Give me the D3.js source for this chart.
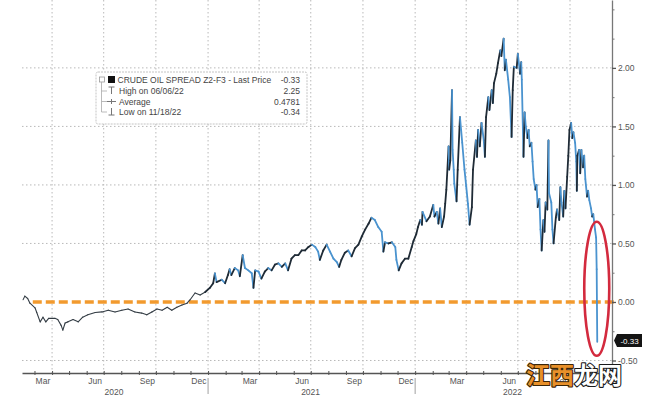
<!DOCTYPE html>
<html><head><meta charset="utf-8">
<script src="https://cdn.jsdelivr.net/npm/d3@7"></script>
<style>body{margin:0;background:#fff}svg{display:block}</style>
</head><body>
<svg id="c" width="660" height="400"></svg>
<script>
// ---------- data ----------
const dates2020 = ["2020-02-10","2020-02-13","2020-02-18","2020-02-22","2020-03-02","2020-03-05","2020-03-11","2020-03-16","2020-03-21","2020-03-26","2020-04-06","2020-04-11","2020-04-17","2020-04-20","2020-04-24","2020-04-29","2020-05-08","2020-05-17","2020-05-25","2020-06-03","2020-06-16","2020-06-28","2020-07-09","2020-07-21","2020-08-02","2020-08-13","2020-08-25","2020-09-06","2020-09-15","2020-09-24","2020-10-03","2020-10-12","2020-10-21","2020-10-29","2020-11-07","2020-11-16","2020-11-25","2020-11-30","2020-12-09","2020-12-18","2020-12-27"];
const values2020 = [0.02,0.05,0.03,-0.01,-0.05,-0.09,-0.17,-0.13,-0.17,-0.14,-0.14,-0.15,-0.20,-0.24,-0.18,-0.17,-0.15,-0.17,-0.13,-0.11,-0.09,-0.085,-0.07,-0.085,-0.07,-0.06,-0.085,-0.095,-0.11,-0.085,-0.06,-0.07,-0.045,-0.07,-0.045,-0.026,-0.01,0.017,0.077,0.06,0.085];
const dates2021 = ["2021-01-04","2021-01-10","2021-01-13","2021-01-16","2021-01-25","2021-01-31","2021-02-05","2021-02-08","2021-02-11","2021-02-17","2021-02-23","2021-02-26","2021-03-03","2021-03-07","2021-03-13","2021-03-19","2021-03-22","2021-03-25","2021-03-31","2021-04-05","2021-04-11","2021-04-17","2021-04-23","2021-04-29","2021-05-05","2021-05-11","2021-05-17","2021-05-22","2021-05-28","2021-06-03","2021-06-09","2021-06-15","2021-06-21","2021-06-27","2021-07-03","2021-07-09","2021-07-14","2021-07-17","2021-07-23","2021-07-29","2021-08-04","2021-08-10","2021-08-16","2021-08-20","2021-08-24","2021-08-30","2021-09-05","2021-09-11","2021-09-17","2021-09-23","2021-09-29","2021-10-05","2021-10-11","2021-10-16","2021-10-22","2021-10-28","2021-11-03","2021-11-06","2021-11-09","2021-11-15","2021-11-21","2021-11-27","2021-11-29","2021-12-03","2021-12-08","2021-12-14","2021-12-20","2021-12-26","2021-12-29"];
const values2021 = [0.12,0.16,0.245,0.17,0.19,0.16,0.23,0.28,0.23,0.29,0.27,0.22,0.40,0.29,0.27,0.245,0.12,0.27,0.26,0.20,0.26,0.29,0.27,0.32,0.33,0.30,0.33,0.27,0.37,0.40,0.40,0.44,0.44,0.47,0.49,0.47,0.43,0.36,0.44,0.49,0.43,0.37,0.34,0.30,0.36,0.42,0.44,0.39,0.46,0.49,0.56,0.62,0.67,0.72,0.70,0.64,0.60,0.43,0.51,0.50,0.51,0.47,0.36,0.27,0.33,0.37,0.37,0.47,0.52];
const dates2022 = ["2022-01-03","2022-01-06","2022-01-10","2022-01-13","2022-01-14","2022-01-21","2022-01-27","2022-02-02","2022-02-04","2022-02-08","2022-02-11","2022-02-14","2022-02-17","2022-02-21","2022-02-23","2022-02-25","2022-03-01","2022-03-02","2022-03-04","2022-03-07","2022-03-08","2022-03-10","2022-03-11","2022-03-15","2022-03-17","2022-03-21","2022-03-23","2022-03-25","2022-03-29","2022-04-01","2022-04-04","2022-04-07","2022-04-11","2022-04-13","2022-04-18","2022-04-20","2022-04-22","2022-04-25","2022-04-28","2022-05-02","2022-05-04","2022-05-06","2022-05-10","2022-05-12","2022-05-16","2022-05-18","2022-05-20","2022-05-24","2022-05-27","2022-05-31","2022-06-02","2022-06-06","2022-06-08","2022-06-10","2022-06-14","2022-06-17","2022-06-20","2022-06-22","2022-06-24","2022-06-29","2022-07-01","2022-07-05","2022-07-07","2022-07-08","2022-07-11","2022-07-13","2022-07-15","2022-07-18","2022-07-20","2022-07-22","2022-07-25","2022-07-27","2022-07-29","2022-08-01","2022-08-03","2022-08-05","2022-08-08","2022-08-10","2022-08-12","2022-08-15","2022-08-17","2022-08-19","2022-08-22","2022-08-24","2022-08-25","2022-08-29","2022-08-31","2022-09-02","2022-09-06","2022-09-08","2022-09-12","2022-09-14","2022-09-16","2022-09-19","2022-09-21","2022-09-23","2022-09-26","2022-09-28","2022-09-30","2022-10-03","2022-10-05","2022-10-07","2022-10-10","2022-10-12","2022-10-13","2022-10-14","2022-10-17","2022-10-19","2022-10-21","2022-10-24","2022-10-26","2022-10-28","2022-10-31","2022-11-02","2022-11-04","2022-11-07","2022-11-09","2022-11-11","2022-11-14","2022-11-16","2022-11-17","2022-11-18"];
const values2022 = [0.58,0.64,0.70,0.66,0.77,0.69,0.73,0.83,0.73,0.77,0.67,0.80,0.64,0.73,0.84,0.96,1.33,1.13,1.21,1.81,1.30,1.13,1.01,0.86,1.13,1.58,1.47,1.36,1.13,0.99,0.84,0.66,0.81,1.13,1.38,1.24,1.47,1.33,1.53,1.38,1.24,1.58,1.75,1.64,1.81,1.70,1.87,1.95,2.04,2.15,2.10,2.25,1.98,2.07,1.90,1.75,1.41,1.81,2.01,2.00,2.12,1.95,2.05,1.90,1.24,1.62,1.50,1.40,1.47,1.33,1.36,1.20,1.05,0.96,1.00,0.81,0.88,0.62,0.44,0.70,0.60,0.85,0.79,1.38,0.93,0.85,0.62,0.50,0.72,0.79,0.70,0.98,0.85,0.73,0.95,0.80,1.07,1.25,1.47,1.53,1.40,1.45,1.36,1.20,0.95,1.25,1.30,1.10,1.30,1.15,1.25,1.05,0.90,0.95,0.87,0.80,0.73,0.75,0.62,0.55,0.28,-0.34];

const yTicks = [-0.5, 0, 0.5, 1, 1.5, 2];
const yMinorTicks = [-0.25, 0.25, 0.75, 1.25, 1.75, 2.25, 2.5];
const monthLabelDates = ["2020-03-15","2020-06-15","2020-09-15","2020-12-15","2021-03-15","2021-06-15","2021-09-15","2021-12-15","2022-03-15","2022-06-15","2022-09-15"];
const yearLabels = ["2020","2021","2022"];
const legendLabels = ["CRUDE OIL SPREAD Z2-F3 - Last Price","High on 06/06/22","Average","Low on 11/18/22"];
const legendValues = ["-0.33","2.25","0.4781","-0.34"];
const lastPrice = -0.33;
const lowDate = "2022-11-18";
const domainStart = "2020-02-08", domainEnd = "2022-12-14";
const zeroLineStart = "2020-02-27";

// ---------- setup ----------
const parse = d3.timeParse("%Y-%m-%d");
const svg = d3.select("#c");
const x = d3.scaleTime().domain([parse(domainStart), parse(domainEnd)]).range([22, 612]);
const y = d3.scaleLinear().domain([-0.6, 2.58]).range([372.2, 0]);
const data = [];
[[dates2020, values2020],[dates2021, values2021],[dates2022, values2022]].forEach(([ds, vs]) => {
  const n = Math.min(ds.length, vs.length);
  for (let i = 0; i < n; i++) data.push({date: parse(ds[i]), v: vs[i]});
});
const font = "'Liberation Sans', Arial, sans-serif";
const x0 = x.range()[0], x1 = x.range()[1];
const axisY = 373;

// gridlines
const gridDates = d3.timeMonth.every(3).range(parse("2020-03-01"), parse(domainEnd)).filter(d => d > x.domain()[0]);
svg.append("g").selectAll("line").data(gridDates).join("line")
  .attr("x1", d => x(d)).attr("x2", d => x(d)).attr("y1", 0).attr("y2", axisY)
  .attr("stroke", "#b9b9b9").attr("stroke-width", 1).attr("stroke-dasharray", "1.5,2.5");
svg.append("g").selectAll("line").data(yTicks.filter(d => d !== 0)).join("line")
  .attr("x1", x0).attr("x2", x1).attr("y1", d => y(d)).attr("y2", d => y(d))
  .attr("stroke", "#b9b9b9").attr("stroke-width", 1).attr("stroke-dasharray", "1.5,2.5");

// zero line
svg.append("line").attr("x1", x(parse(zeroLineStart))).attr("x2", x1 + 2)
  .attr("y1", y(0)).attr("y2", y(0))
  .attr("stroke", "#f29a2e").attr("stroke-width", 3.4).attr("stroke-dasharray", "9,4");

// series segments (blue when falling, dark when rising)
const seg = svg.append("g").attr("stroke-linecap", "round");
for (let i = 1; i < data.length; i++) {
  const a = data[i-1], b = data[i];
  const early = b.date.getFullYear() === 2020;
  seg.append("line")
    .attr("x1", x(a.date)).attr("y1", y(a.v)).attr("x2", x(b.date)).attr("y2", y(b.v))
    .attr("stroke", early ? "#333c44" : (b.v < a.v ? "#4a93cf" : "#1f2b36"))
    .attr("stroke-width", early ? 1.1 : 1.8);
}

// right axis
const ra = svg.append("g").attr("transform", `translate(${x1},0)`)
  .call(d3.axisRight(y).tickValues(yTicks).tickSize(4).tickSizeOuter(0).tickPadding(2).tickFormat(d => d.toFixed(2)));
ra.select(".domain").attr("stroke", "#777").attr("stroke-width", 1.3);
ra.selectAll(".tick line").attr("stroke", "#555").attr("stroke-width", 1.3);
ra.selectAll("text").attr("font-family", font).attr("font-size", 8.5).attr("fill", "#555");
const rm = svg.append("g").attr("transform", `translate(${x1},0)`)
  .call(d3.axisRight(y).tickValues(yMinorTicks).tickSize(2.5).tickFormat(""));
rm.select(".domain").remove();
rm.selectAll(".tick line").attr("stroke", "#777");

// bottom axis
const months = d3.timeMonth.range(d3.timeMonth.ceil(x.domain()[0]), x.domain()[1]);
const bm = svg.append("g").attr("transform", `translate(0,${axisY})`)
  .call(d3.axisBottom(x).tickValues(months).tickSize(2).tickSizeOuter(0).tickFormat(""));
bm.select(".domain").attr("stroke", "#555").attr("stroke-width", 1.4);
bm.selectAll(".tick line").attr("stroke", "#555").attr("transform", "translate(0,-2)").attr("y2", 4);
const bl = svg.append("g").attr("transform", `translate(0,${axisY})`)
  .call(d3.axisBottom(x).tickValues(monthLabelDates.map(parse)).tickSize(0).tickPadding(5).tickFormat(d3.timeFormat("%b")));
bl.select(".domain").remove();
bl.selectAll("text").attr("font-family", font).attr("font-size", 8.5).attr("fill", "#555");

// year labels and separators
const yearStarts = [parse("2021-01-01"), parse("2022-01-01")];
svg.append("g").selectAll("line").data(yearStarts).join("line")
  .attr("x1", d => x(d)).attr("x2", d => x(d)).attr("y1", 378).attr("y2", 394)
  .attr("stroke", "#a0a0a0").attr("stroke-width", 1);
const bounds = [x.domain()[0], ...yearStarts, x.domain()[1]];
svg.append("g").selectAll("text").data(yearLabels).join("text")
  .attr("x", (d, i) => (x(bounds[i]) + x(bounds[i+1])) / 2 - 1).attr("y", 395)
  .attr("text-anchor", "middle").attr("font-family", font).attr("font-size", 8.5).attr("fill", "#555")
  .text(d => d);

// last price tag
const yl = y(lastPrice);
svg.append("path")
  .attr("d", `M${x1+2},${yl} L${x1+5},${yl-6.5} L${x1+30},${yl-6.5} L${x1+30},${yl+6.5} L${x1+5},${yl+6.5} Z`)
  .attr("fill", "#141414");
svg.append("text").attr("x", x1 + 17.5).attr("y", yl + 3).attr("text-anchor", "middle")
  .attr("font-family", font).attr("font-size", 8).attr("fill", "#fff").text(legendValues[0]);

// legend
const lg = svg.append("g");
lg.append("rect").attr("x", 96).attr("y", 72).attr("width", 211).attr("height", 52).attr("rx", 2)
  .attr("fill", "#fff").attr("stroke", "#c4c4c4").attr("stroke-width", 1).attr("stroke-dasharray", "2,1");
const rowY = [80, 91, 101.5, 112];
lg.append("rect").attr("x", 99.5).attr("y", rowY[0]-3).attr("width", 5).attr("height", 5).attr("fill", "none").attr("stroke", "#999").attr("stroke-width", 0.8);
lg.append("line").attr("x1", 101.5).attr("x2", 101.5).attr("y1", rowY[0]+2).attr("y2", rowY[3]).attr("stroke", "#aaa").attr("stroke-width", 0.8);
rowY.slice(1).forEach(ry => lg.append("line").attr("x1", 101.5).attr("x2", 107).attr("y1", ry).attr("y2", ry).attr("stroke", "#aaa").attr("stroke-width", 0.8));
lg.append("rect").attr("x", 108).attr("y", rowY[0]-4).attr("width", 7).attr("height", 7).attr("fill", "#111");
lg.append("path").attr("d", `M108.5,${rowY[1]-4} H114.5 M111.5,${rowY[1]-4} V${rowY[1]+3}`).attr("stroke", "#777").attr("fill", "none");
lg.append("path").attr("d", `M107,${rowY[2]} H116 M111.5,${rowY[2]-2.5} V${rowY[2]+2.5}`).attr("stroke", "#777").attr("fill", "none");
lg.append("path").attr("d", `M111.5,${rowY[3]-4} V${rowY[3]+3} M108.5,${rowY[3]+3} H114.5`).attr("stroke", "#777").attr("fill", "none");
lg.selectAll("text.l").data(legendLabels).join("text").attr("class", "l")
  .attr("x", (d, i) => i === 0 ? 117.5 : 119).attr("y", (d, i) => rowY[i] + 3)
  .attr("font-family", font).attr("font-size", 8.5).attr("fill", "#444").text(d => d);
lg.selectAll("text.v").data(legendValues).join("text").attr("class", "v")
  .attr("x", 300).attr("y", (d, i) => rowY[i] + 3).attr("text-anchor", "end")
  .attr("font-family", font).attr("font-size", 8.5).attr("fill", "#444").text(d => d);

// red ellipse annotation around the final plunge
const eTop = 0.685, eBot = -0.46;
svg.append("ellipse")
  .attr("cx", x(parse(lowDate)) - 0.5).attr("cy", (y(eTop) + y(eBot)) / 2)
  .attr("rx", 12.5).attr("ry", (y(eBot) - y(eTop)) / 2)
  .attr("fill", "none").attr("stroke", "#d32a3e").attr("stroke-width", 2.6);

// watermark
const wm = svg.append("text").attr("x", 526).attr("y", 384)
  .attr("font-family", "'Noto Sans CJK SC', sans-serif").attr("font-weight", "bold").attr("font-size", 24)
  .attr("stroke-width", 2.2).attr("paint-order", "stroke").attr("stroke-linejoin", "round");
wm.append("tspan").attr("fill", "#e8902a").attr("stroke", "#3b2608").text("江西");
wm.append("tspan").attr("fill", "#ffffff").attr("stroke", "#1a1a1a").text("龙网");
</script>
</body></html>
